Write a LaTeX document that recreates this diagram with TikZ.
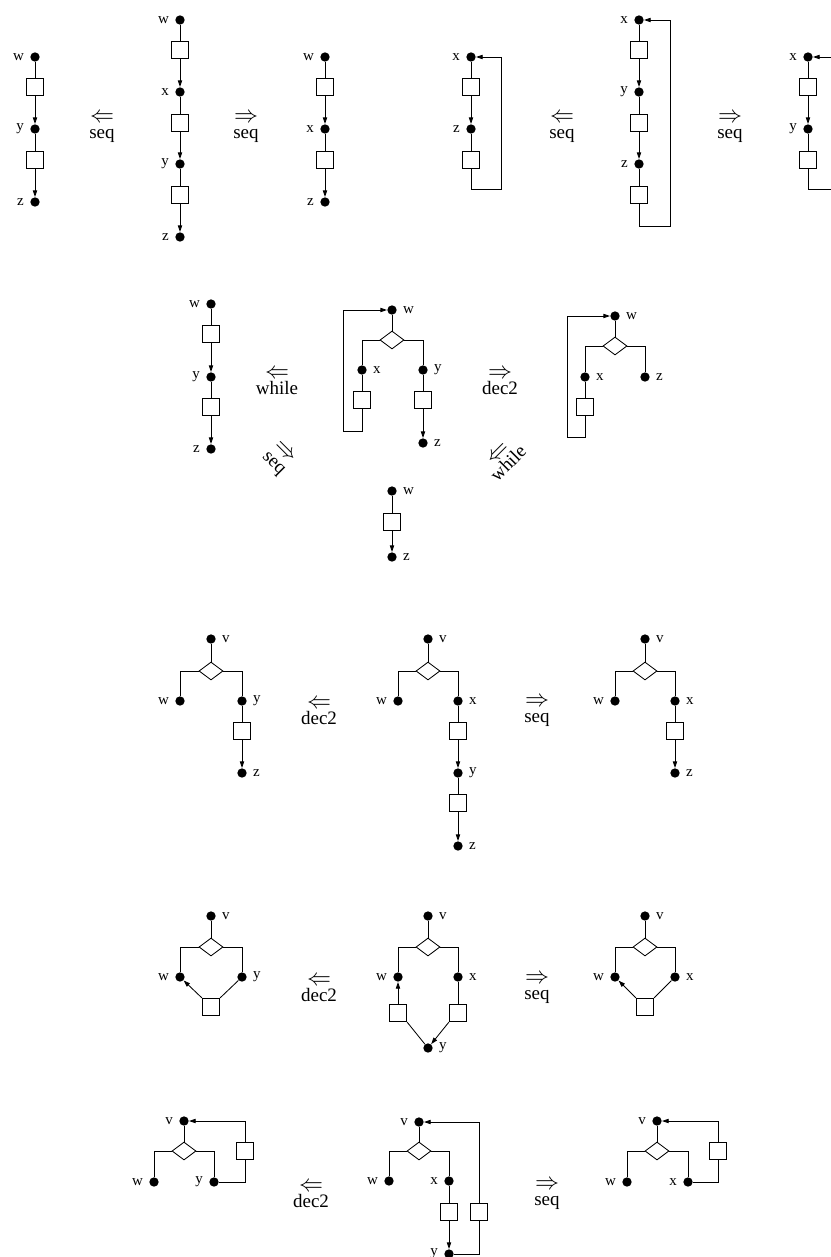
\documentclass[tikz,border=0pt]{standalone}
\usepackage{fontspec}
\setmainfont{Liberation Serif}
\usetikzlibrary{arrows.meta,shapes.geometric}
\newcommand{\ruleL}{{\fontsize{14}{9}\selectfont$\Leftarrow$}}
\newcommand{\ruleR}{{\fontsize{14}{9}\selectfont$\Rightarrow$}}
\tikzset{
  vdot/.style={circle, fill=black, inner sep=0pt, minimum size=5.6pt},
  stmt/.style={rectangle, draw=black, fill=white, line width=0.5pt, inner sep=0pt, minimum size=10.4pt},
  cond/.style={diamond, draw=black, fill=white, line width=0.5pt, inner sep=0pt, minimum width=14.4pt, minimum height=10.8pt},
  edge/.style={line width=0.5pt, draw=black},
  flow/.style={edge, -{Triangle[length=4pt,width=2.6pt]}},
  vlbl/.style={font=\fontsize{9}{9}\selectfont, inner sep=1.5pt},
  rulelbl/.style={font=\fontsize{11.4}{9.3}\selectfont, align=center, inner sep=0pt},
  every label/.style={label distance=2pt},
}

\begin{document}
\begin{tikzpicture}[x=0.6pt,y=-0.6pt]
  \useasboundingbox (0,0) rectangle (831,1257);

  % ---------- row 1: sequences ----------
  \node[vdot, label={[vlbl]left:w}] (aw) at (35,57) {};
  \node[stmt] (ab1) at (35,87) {};
  \node[vdot, label={[vlbl]left:y}] (ay) at (35,129) {};
  \node[stmt] (ab2) at (35,160) {};
  \node[vdot, label={[vlbl]left:z}] (az) at (35,202) {};
  \draw[edge] (aw) -- (ab1);
  \draw[flow] (ab1) -- (ay);
  \draw[edge] (ay) -- (ab2);
  \draw[flow] (ab2) -- (az);

  \node[vdot, label={[vlbl]left:w}] (bw) at (180,20) {};
  \node[stmt] (bb1) at (180,50) {};
  \node[vdot, label={[vlbl]left:x}] (bx) at (180,92) {};
  \node[stmt] (bb2) at (180,123) {};
  \node[vdot, label={[vlbl]left:y}] (by) at (180,164) {};
  \node[stmt] (bb3) at (180,195) {};
  \node[vdot, label={[vlbl]left:z}] (bz) at (180,237) {};
  \draw[edge] (bw) -- (bb1);
  \draw[flow] (bb1) -- (bx);
  \draw[edge] (bx) -- (bb2);
  \draw[flow] (bb2) -- (by);
  \draw[edge] (by) -- (bb3);
  \draw[flow] (bb3) -- (bz);

  \node[vdot, label={[vlbl]left:w}] (cw) at (325,57) {};
  \node[stmt] (cb1) at (325,87) {};
  \node[vdot, label={[vlbl]left:x}] (cx) at (325,129) {};
  \node[stmt] (cb2) at (325,160) {};
  \node[vdot, label={[vlbl]left:z}] (cz) at (325,202) {};
  \draw[edge] (cw) -- (cb1);
  \draw[flow] (cb1) -- (cx);
  \draw[edge] (cx) -- (cb2);
  \draw[flow] (cb2) -- (cz);

  \node[vdot, label={[vlbl]left:x}] (dx) at (471,57) {};
  \node[stmt] (db1) at (471,87) {};
  \node[vdot, label={[vlbl]left:z}] (dz) at (471,129) {};
  \node[stmt] (db2) at (471,160) {};
  \coordinate (dc) at (501,189);
  \draw[edge] (dx) -- (db1);
  \draw[flow] (db1) -- (dz);
  \draw[edge] (dz) -- (db2);
  \draw[flow] (db2) |- (dc) |- (dx);

  \node[vdot, label={[vlbl]left:x}] (ex) at (639,20) {};
  \node[stmt] (eb1) at (639,50) {};
  \node[vdot, label={[vlbl]left:y}] (ey) at (639,92) {};
  \node[stmt] (eb2) at (639,123) {};
  \node[vdot, label={[vlbl]left:z}] (ez) at (639,164) {};
  \node[stmt] (eb3) at (639,195) {};
  \coordinate (ec) at (670,226);
  \draw[edge] (ex) -- (eb1);
  \draw[flow] (eb1) -- (ey);
  \draw[edge] (ey) -- (eb2);
  \draw[flow] (eb2) -- (ez);
  \draw[edge] (ez) -- (eb3);
  \draw[flow] (eb3) |- (ec) |- (ex);

  \node[vdot, label={[vlbl]left:x}] (fx) at (808,57) {};
  \node[stmt] (fb1) at (808,87) {};
  \node[vdot, label={[vlbl]left:y}] (fy) at (808,129) {};
  \node[stmt] (fb2) at (808,160) {};
  \coordinate (fc) at (838,189);
  \draw[edge] (fx) -- (fb1);
  \draw[flow] (fb1) -- (fy);
  \draw[edge] (fy) -- (fb2);
  \draw[flow] (fb2) |- (fc) |- (fx);

  \node[rulelbl] (r1a) at (102,128) {\ruleL\\seq};
  \node[rulelbl] (r1b) at (246,128) {\ruleR\\seq};
  \node[rulelbl] (r1c) at (562,128) {\ruleL\\seq};
  \node[rulelbl] (r1d) at (730,128) {\ruleR\\seq};

  % ---------- row 2: while ----------
  \node[vdot, label={[vlbl]left:w}] (gw) at (211,304) {};
  \node[stmt] (gb1) at (211,334) {};
  \node[vdot, label={[vlbl]left:y}] (gy) at (211,377) {};
  \node[stmt] (gb2) at (211,407) {};
  \node[vdot, label={[vlbl]left:z}] (gz) at (211,449) {};
  \draw[edge] (gw) -- (gb1);
  \draw[flow] (gb1) -- (gy);
  \draw[edge] (gy) -- (gb2);
  \draw[flow] (gb2) -- (gz);

  \node[vdot, label={[vlbl]right:w}] (hw) at (392,310) {};
  \node[cond] (hd) at (392,340) {};
  \node[vdot, label={[vlbl]right:x}] (hx) at (362,370) {};
  \node[vdot, label={[vlbl]right:y}] (hy) at (423,370) {};
  \node[stmt] (hb1) at (362,400) {};
  \node[stmt] (hb2) at (423,400) {};
  \node[vdot, label={[vlbl]right:z}] (hz) at (423,443) {};
  \coordinate (hc) at (343,431);
  \draw[edge] (hw) -- (hd);
  \draw[edge] (hd.west) -| (hx);
  \draw[edge] (hd.east) -| (hy);
  \draw[edge] (hx) -- (hb1);
  \draw[edge] (hy) -- (hb2);
  \draw[flow] (hb2) -- (hz);
  \draw[flow] (hb1) |- (hc) |- (hw);

  \node[vdot, label={[vlbl]right:w}] (iw) at (392,491) {};
  \node[stmt] (ib) at (392,522) {};
  \node[vdot, label={[vlbl]right:z}] (iz) at (392,557) {};
  \draw[edge] (iw) -- (ib);
  \draw[flow] (ib) -- (iz);

  \node[vdot, label={[vlbl]right:w}] (jw) at (615,316) {};
  \node[cond] (jd) at (615,346) {};
  \node[vdot, label={[vlbl]right:x}] (jx) at (585,377) {};
  \node[vdot, label={[vlbl]right:z}] (jz) at (645,377) {};
  \node[stmt] (jb) at (585,407) {};
  \coordinate (jc) at (567,437);
  \draw[edge] (jw) -- (jd);
  \draw[edge] (jd.west) -| (jx);
  \draw[edge] (jd.east) -| (jz);
  \draw[edge] (jx) -- (jb);
  \draw[flow] (jb) |- (jc) |- (jw);

  \node[rulelbl] (r2a) at (277,382) {\ruleL\\while};
  \node[rulelbl] (r2b) at (500,382) {\ruleR\\dec2};
  \node[rulelbl, rotate=-45] (r2c) at (278,459) {\ruleR\\seq};
  \node[rulelbl, rotate=45] (r2d) at (504,459) {\ruleL\\while};

  % ---------- row 3: if with sequence ----------
  \node[vdot, label={[vlbl]right:v}] (kv) at (211,639) {};
  \node[cond] (kd) at (211,671) {};
  \node[vdot, label={[vlbl]left:w}] (kw) at (180,701) {};
  \node[vdot, label={[vlbl]right:y}] (ky) at (242,701) {};
  \node[stmt] (kb) at (242,731) {};
  \node[vdot, label={[vlbl]right:z}] (kz) at (242,773) {};
  \draw[edge] (kv) -- (kd);
  \draw[edge] (kd.west) -| (kw);
  \draw[edge] (kd.east) -| (ky);
  \draw[edge] (ky) -- (kb);
  \draw[flow] (kb) -- (kz);

  \node[vdot, label={[vlbl]right:v}] (lv) at (428,639) {};
  \node[cond] (ld) at (428,671) {};
  \node[vdot, label={[vlbl]left:w}] (lw) at (398,701) {};
  \node[vdot, label={[vlbl]right:x}] (lx) at (458,701) {};
  \node[stmt] (lb1) at (458,731) {};
  \node[vdot, label={[vlbl]right:y}] (ly) at (458,773) {};
  \node[stmt] (lb2) at (458,803) {};
  \node[vdot, label={[vlbl]right:z}] (lz) at (458,846) {};
  \draw[edge] (lv) -- (ld);
  \draw[edge] (ld.west) -| (lw);
  \draw[edge] (ld.east) -| (lx);
  \draw[edge] (lx) -- (lb1);
  \draw[flow] (lb1) -- (ly);
  \draw[edge] (ly) -- (lb2);
  \draw[flow] (lb2) -- (lz);

  \node[vdot, label={[vlbl]right:v}] (mv) at (645,639) {};
  \node[cond] (md) at (645,671) {};
  \node[vdot, label={[vlbl]left:w}] (mw) at (615,701) {};
  \node[vdot, label={[vlbl]right:x}] (mx) at (675,701) {};
  \node[stmt] (mb) at (675,731) {};
  \node[vdot, label={[vlbl]right:z}] (mz) at (675,773) {};
  \draw[edge] (mv) -- (md);
  \draw[edge] (md.west) -| (mw);
  \draw[edge] (md.east) -| (mx);
  \draw[edge] (mx) -- (mb);
  \draw[flow] (mb) -- (mz);

  \node[rulelbl] (r3a) at (319,712) {\ruleL\\dec2};
  \node[rulelbl] (r3b) at (537,712) {\ruleR\\seq};

  % ---------- row 4: if with join ----------
  \node[vdot, label={[vlbl]right:v}] (nv) at (211,916) {};
  \node[cond] (nd) at (211,947) {};
  \node[vdot, label={[vlbl]left:w}] (nw) at (180,977) {};
  \node[vdot, label={[vlbl]right:y}] (ny) at (242,977) {};
  \node[stmt] (nb) at (211,1007) {};
  \draw[edge] (nv) -- (nd);
  \draw[edge] (nd.west) -| (nw);
  \draw[edge] (nd.east) -| (ny);
  \draw[edge] (ny) -- (nb.north east);
  \draw[flow] (nb.north west) -- (nw);

  \node[vdot, label={[vlbl]right:v}] (ov) at (428,916) {};
  \node[cond] (od) at (428,947) {};
  \node[vdot, label={[vlbl]left:w}] (ow) at (398,977) {};
  \node[vdot, label={[vlbl]right:x}] (ox) at (458,977) {};
  \node[stmt] (ob1) at (398,1013) {};
  \node[stmt] (ob2) at (458,1013) {};
  \node[vdot, label={[vlbl]right:y}] (oy) at (428,1048) {};
  \draw[edge] (ov) -- (od);
  \draw[edge] (od.west) -| (ow);
  \draw[edge] (od.east) -| (ox);
  \draw[flow] (ob1) -- (ow);
  \draw[edge] (ox) -- (ob2);
  \draw[edge] (ob1.south east) -- (oy);
  \draw[flow] (ob2.south west) -- (oy);

  \node[vdot, label={[vlbl]right:v}] (pv) at (645,916) {};
  \node[cond] (pd) at (645,947) {};
  \node[vdot, label={[vlbl]left:w}] (pw) at (615,977) {};
  \node[vdot, label={[vlbl]right:x}] (px) at (675,977) {};
  \node[stmt] (pb) at (645,1007) {};
  \draw[edge] (pv) -- (pd);
  \draw[edge] (pd.west) -| (pw);
  \draw[edge] (pd.east) -| (px);
  \draw[edge] (px) -- (pb.north east);
  \draw[flow] (pb.north west) -- (pw);

  \node[rulelbl] (r4a) at (319,989) {\ruleL\\dec2};
  \node[rulelbl] (r4b) at (537,989) {\ruleR\\seq};

  % ---------- row 5: if with back edge ----------
  \node[vdot, label={[vlbl]left:v}] (qv) at (184,1121) {};
  \node[cond] (qd) at (184,1151) {};
  \node[vdot, label={[vlbl]left:w}] (qw) at (154,1182) {};
  \node[vdot, label={[vlbl]left:y}] (qy) at (214,1182) {};
  \node[stmt] (qb) at (245,1151) {};
  \draw[edge] (qv) -- (qd);
  \draw[edge] (qd.west) -| (qw);
  \draw[edge] (qd.east) -| (qy);
  \draw[edge] (qy) -| (qb);
  \draw[flow] (qb) |- (qv);

  \node[vdot, label={[vlbl]left:v}] (sv) at (419,1122) {};
  \node[cond] (sd) at (419,1151) {};
  \node[vdot, label={[vlbl]left:w}] (sw) at (389,1181) {};
  \node[vdot, label={[vlbl]left:x}] (sx) at (449,1181) {};
  \node[stmt] (sb1) at (449,1212) {};
  \node[stmt] (sb2) at (479,1212) {};
  \node[vdot, label={[vlbl]left:y}] (sy) at (449,1254) {};
  \draw[edge] (sv) -- (sd);
  \draw[edge] (sd.west) -| (sw);
  \draw[edge] (sd.east) -| (sx);
  \draw[edge] (sx) -- (sb1);
  \draw[flow] (sb1) -- (sy);
  \draw[edge] (sy) -| (sb2);
  \draw[flow] (sb2) |- (sv);

  \node[vdot, label={[vlbl]left:v}] (tv) at (657,1121) {};
  \node[cond] (td) at (657,1151) {};
  \node[vdot, label={[vlbl]left:w}] (tw) at (627,1182) {};
  \node[vdot, label={[vlbl]left:x}] (tx) at (688,1182) {};
  \node[stmt] (tb) at (718,1151) {};
  \draw[edge] (tv) -- (td);
  \draw[edge] (td.west) -| (tw);
  \draw[edge] (td.east) -| (tx);
  \draw[edge] (tx) -| (tb);
  \draw[flow] (tb) |- (tv);

  \node[rulelbl] (r5a) at (311,1195) {\ruleL\\dec2};
  \node[rulelbl] (r5b) at (547,1195) {\ruleR\\seq};

\end{tikzpicture}
\end{document}
